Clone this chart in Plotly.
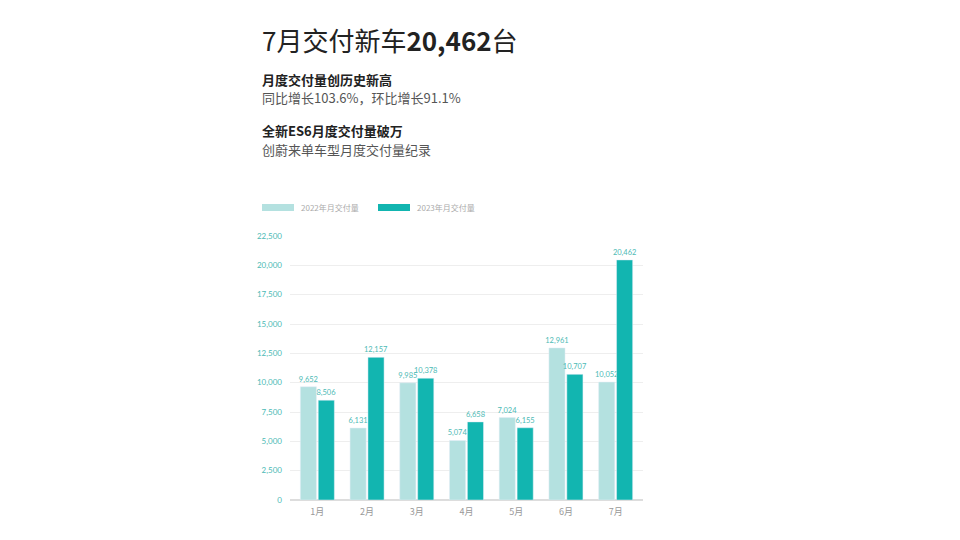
import plotly.graph_objects as go

# monthly deliveries
months = ["1月", "2月", "3月", "4月", "5月", "6月", "7月"]
deliveries_2022 = [9652, 6131, 9985, 5074, 7024, 12961, 10052]
deliveries_2023 = [8506, 12157, 10378, 6658, 6155, 10707, 20462]
series_names = ["2022年月交付量", "2023年月交付量"]
y_ticks = [0, 2500, 5000, 7500, 10000, 12500, 15000, 17500, 20000, 22500]

light = "#b4e1e0"
dark = "#12b5b0"
tick_color = "#4cbab5"
font = "Noto Sans CJK SC"
num_font = "Lato"

# page has an 8px body margin, so the figure is sized to fit the window
W, H = 944, 524
OFF = 8


def px(x):
    return (x - OFF) / W


def py(y):
    return 1 - (y - OFF) / H


fig = go.Figure()
for name, vals, col in [(series_names[0], deliveries_2022, light),
                        (series_names[1], deliveries_2023, dark)]:
    fig.add_trace(go.Bar(
        x=months, y=vals, name=name, marker_color=col,
        text=[f"{v:,}" for v in vals], textposition="outside",
        constraintext="none",
        textfont=dict(size=7.5, color=tick_color, family=num_font),
        cliponaxis=False,
    ))

fig.update_layout(
    width=W, height=H,
    margin=dict(l=0, r=0, t=0, b=0),
    paper_bgcolor="white", plot_bgcolor="white",
    font=dict(family=font),
    barmode="group", bargap=0.28, bargroupgap=0.1,
    showlegend=False,
    xaxis=dict(domain=[px(290), px(643)], range=[-0.55, 6.55],
               showline=False, ticks="", ticklabelstandoff=5,
               tickfont=dict(size=9, color="#999999"), automargin=False),
    yaxis=dict(domain=[py(500), py(236)], range=[0, 22500],
               tickvals=y_ticks, ticktext=[f"{v:,}" for v in y_ticks],
               tickfont=dict(size=8, color=tick_color, family=num_font),
               gridcolor="#eeeeee", gridwidth=1, automargin=False,
               zeroline=True, zerolinecolor="#dddddd", ticklabelstandoff=7),
)

# custom legend
for (x0, name, col) in [(262, series_names[0], light), (378, series_names[1], dark)]:
    fig.add_shape(type="rect", xref="paper", yref="paper",
                  x0=px(x0), x1=px(x0 + 32), y0=py(211), y1=py(204),
                  fillcolor=col, line_width=0)
    fig.add_annotation(x=px(x0 + 37), y=py(207), xref="paper", yref="paper",
                       text=name, showarrow=False, xanchor="left",
                       font=dict(size=8, color="#aaaaaa"))

texts = [
    (39, "7月交付新车<b>20,462</b>台", 26, "#222222"),
    (79, "<b>月度交付量创历史新高</b>", 13, "#222222"),
    (97, "同比增长103.6%，环比增长91.1%", 13, "#555555"),
    (131, "<b>全新ES6月度交付量破万</b>", 13, "#222222"),
    (149, "创蔚来单车型月度交付量纪录", 13, "#555555"),
]
for y, t, s, c in texts:
    fig.add_annotation(x=px(260), y=py(y), xref="paper", yref="paper",
                       text=t, showarrow=False, xanchor="left", yanchor="middle",
                       font=dict(size=s, color=c, family=font))

fig.write_html("out.html")
